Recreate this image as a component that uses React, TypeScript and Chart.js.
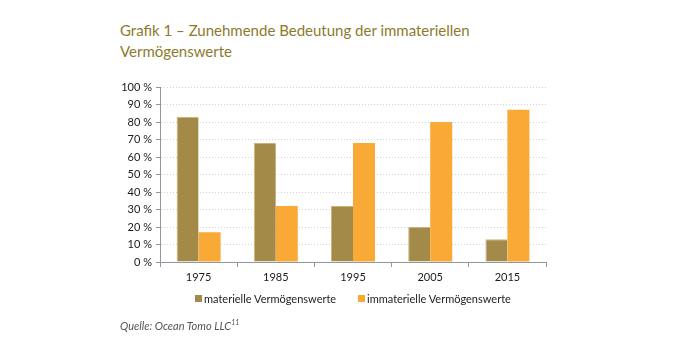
import React, { useEffect, useRef } from "react";
import { Chart, registerables } from "chart.js";

Chart.register(...registerables);

const categories = ["1975", "1985", "1995", "2005", "2015"];
const materielle = [83, 68, 32, 20, 13];
const immaterielle = [17, 32, 68, 80, 87];
const seriesNames = ["materielle Vermögenswerte", "immaterielle Vermögenswerte"];
const colors = ["#A38A48", "#F9A935"];
const FONT = "Lato, 'Open Sans', sans-serif";

export default function App() {
  const ref = useRef<HTMLCanvasElement>(null);
  useEffect(() => {
    document.body.style.margin = "0";
    const chart = new Chart(ref.current!, {
      type: "bar",
      data: {
        labels: categories,
        datasets: [
          { label: seriesNames[0], data: materielle, backgroundColor: colors[0], borderColor: "#C9B57A", borderWidth: { left: 1, top: 1 } as any },
          { label: seriesNames[1], data: immaterielle, backgroundColor: colors[1], borderWidth: 0 },
        ],
      },
      options: {
        animation: false,
        responsive: false,
        maintainAspectRatio: false,
        layout: { padding: { left: 100, right: 128, top: 87, bottom: 60 } },
        datasets: { bar: { categoryPercentage: 0.57, barPercentage: 1 } },
        plugins: { legend: { display: false }, tooltip: { enabled: false }, title: { display: false } },
        scales: {
          x: {
            afterFit: (s: any) => { s.height = 38; },
            grid: { drawOnChartArea: false, drawTicks: true, tickLength: 5, tickColor: "#8f98a0", offset: true },
            border: { color: "#8f98a0", width: 1 },
            ticks: { color: "#1a1a1a", font: { family: FONT, size: 11 }, padding: 4 },
          },
          y: {
            min: 0,
            max: 100,
            afterFit: (s: any) => { s.width = 60; },
            ticks: { stepSize: 10, color: "#1a1a1a", font: { family: FONT, size: 11 }, padding: 4, callback: (v: any) => v + " %" },
            grid: { color: "#d4d4d4", drawTicks: true, tickLength: 4, tickColor: "#8f98a0", tickBorderDash: [] as any },
            border: { color: "#8f98a0", width: 1, dash: [1, 2] },
          },
        },
      },
    });
    return () => chart.destroy();
  }, []);

  return (
    <div style={{ position: "fixed", left: 0, top: 0, width: 674, height: 360, background: "#fff", fontFamily: FONT }}>
      <div style={{ position: "absolute", left: 120, top: 20, color: "#8C7A2C", fontSize: 15, lineHeight: "21px" }}>
        Grafik 1 – Zunehmende Bedeutung der immateriellen
        <br />
        Vermögenswerte
      </div>
      <canvas ref={ref} width={674} height={360} style={{ position: "absolute", left: 0, top: 0 }} />
      <div style={{ position: "absolute", left: 195, top: 292, fontSize: 11, color: "#222", display: "flex", alignItems: "center", whiteSpace: "nowrap" }}>
        <span style={{ width: 7, height: 7, background: colors[0], display: "inline-block", marginRight: 2 }} />
        <span>{seriesNames[0]}</span>
      </div>
      <div style={{ position: "absolute", left: 358, top: 292, fontSize: 11, color: "#222", display: "flex", alignItems: "center", whiteSpace: "nowrap" }}>
        <span style={{ width: 7, height: 7, background: colors[1], display: "inline-block", marginRight: 2 }} />
        <span>{seriesNames[1]}</span>
      </div>
      <div style={{ position: "absolute", left: 120, top: 318, fontSize: 11, color: "#555", fontStyle: "italic" }}>
        Quelle: Ocean Tomo LLC<sup style={{ fontSize: 7 }}>11</sup>
      </div>
    </div>
  );
}
